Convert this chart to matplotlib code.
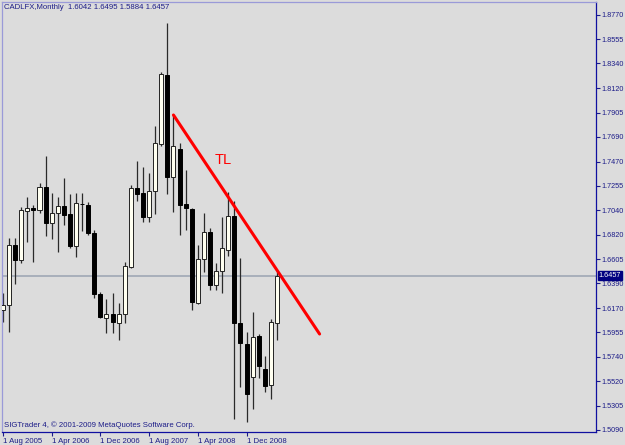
import numpy as np
import matplotlib
matplotlib.use("Agg")
from matplotlib import pyplot as plt
import matplotlib.transforms as mtransforms

# monthly CAD/LFX candles, Aug 2005 .. May 2009
opens = [1.6154, 1.6198, 1.6730, 1.6597, 1.7032, 1.7059, 1.7041, 1.7245,
         1.6926, 1.7014, 1.7076, 1.7005, 1.6722, 1.7094, 1.7085, 1.6837,
         1.6296, 1.6083, 1.6118, 1.6039, 1.6118, 1.6535, 1.7236, 1.7192,
         1.6979, 1.7209, 1.7626, 1.8238, 1.7333, 1.7582, 1.7094, 1.7050,
         1.6216, 1.6606, 1.6846, 1.6376, 1.6500, 1.6686, 1.6988, 1.6039,
         1.5852, 1.5560, 1.5923, 1.5631, 1.5489, 1.6042]
highs = [1.6305, 1.6792, 1.6792, 1.7067, 1.7156, 1.7085, 1.7280, 1.7520,
         1.7192, 1.7156, 1.7325, 1.7183, 1.7192, 1.7192, 1.7112, 1.6863,
         1.6314, 1.6251, 1.6305, 1.6216, 1.6580, 1.7262, 1.7475, 1.7422,
         1.7369, 1.7786, 1.8265, 1.8699, 1.7883, 1.7635, 1.7396, 1.7059,
         1.6730, 1.7014, 1.6881, 1.6571, 1.6979, 1.7200, 1.7121, 1.6615,
         1.5959, 1.6136, 1.5941, 1.5746, 1.6074, 1.6495]
lows = [1.6048, 1.5959, 1.6384, 1.6571, 1.6757, 1.6580, 1.7014, 1.6810,
        1.6784, 1.6668, 1.6908, 1.6704, 1.6624, 1.6855, 1.6819, 1.6260,
        1.6083, 1.5950, 1.5950, 1.5888, 1.6039, 1.6526, 1.7121, 1.6934,
        1.6934, 1.7005, 1.7608, 1.7183, 1.7023, 1.6819, 1.6863, 1.6154,
        1.6210, 1.6491, 1.6331, 1.6331, 1.6305, 1.6633, 1.5187, 1.5471,
        1.5161, 1.5276, 1.5551, 1.5427, 1.5365, 1.5884]
closes = [1.6198, 1.6730, 1.6597, 1.7041, 1.7059, 1.7041, 1.7245, 1.6926,
          1.7014, 1.7076, 1.6996, 1.6722, 1.7103, 1.7090, 1.6837, 1.6296,
          1.6092, 1.6118, 1.6048, 1.6118, 1.6544, 1.7236, 1.7183, 1.6979,
          1.7209, 1.7635, 1.8247, 1.7333, 1.7608, 1.7085, 1.7059, 1.6225,
          1.6606, 1.6846, 1.6376, 1.6500, 1.6704, 1.6988, 1.6039, 1.5861,
          1.5409, 1.5915, 1.5657, 1.5480, 1.6048, 1.6457]

date_ticks = [0, 8, 16, 24, 32, 40]
date_labels = ["1 Aug 2005", "1 Apr 2006", "1 Dec 2006", "1 Aug 2007",
               "1 Apr 2008", "1 Dec 2008"]
price_ticks = [1.8770, 1.8555, 1.8340, 1.8120, 1.7905, 1.7690, 1.7470, 1.7255,
               1.7040, 1.6820, 1.6605, 1.6390, 1.6170, 1.5955, 1.5740, 1.5520,
               1.5305, 1.5090]
trend_line = [(28, 1.7883), (52, 1.5941)]
last_price = 1.6457

BG = "#dcdcdc"
NAVY = "#1c1c88"
FONT = "Liberation Sans"
FS = 5.2

fig = plt.figure(figsize=(6.25, 4.45), dpi=100, facecolor=BG)
ax = fig.add_axes([2 / 625, 13 / 445, 594 / 625, 430 / 445], facecolor=BG)

x = np.arange(len(opens))
o = np.array(opens)
h = np.array(highs)
l = np.array(lows)
c = np.array(closes)
up = c >= o

ax.vlines(x, l, h, color="#2a2a2a", linewidth=0.9, zorder=2)
body = np.where(np.abs(c - o) < 0.0004, 0.0004 * np.sign(c - o + 1e-9), c - o)
ax.bar(x[up], body[up], bottom=o[up], width=0.66, color="#fffff0",
       edgecolor="#222222", linewidth=0.7, zorder=3)
ax.bar(x[~up], body[~up], bottom=o[~up], width=0.66, color="black",
       edgecolor="black", linewidth=0.7, zorder=3)

# current price line
ax.axhline(last_price, color="#a4acb8", linewidth=1.3, zorder=1)

# trend line
tx, ty = zip(*trend_line)
ax.plot(tx, ty, color="#ff0000", linewidth=2.2, solid_capstyle="round", zorder=4)
ax.text(36.2, 1.7484, "TL", color="#ff0000", fontsize=10.5, family=FONT,
        ha="center", va="center", zorder=5)

ax.set_xlim(-0.16, 97.4)
ax.set_ylim(1.5072, 1.8885)

ax.yaxis.tick_right()
ax.set_yticks(price_ticks)
ax.set_yticklabels([f"{p:.4f}" for p in price_ticks])
ax.tick_params(axis="y", direction="out", length=3, width=0.8, color=NAVY,
               labelcolor=NAVY, labelsize=FS, pad=1)
for lab in ax.get_yticklabels():
    lab.set_family(FONT)

ax.set_xticks(date_ticks)
ax.set_xticklabels(date_labels, ha="left")
ax.tick_params(axis="x", direction="out", length=3, width=0.8, color=NAVY,
               labelcolor=NAVY, labelsize=5.6, pad=1.5)
for lab in ax.get_xticklabels():
    lab.set_family(FONT)

for side in ["left", "top"]:
    ax.spines[side].set_color("#9a9ad8")
    ax.spines[side].set_linewidth(0.9)
for side in ["right", "bottom"]:
    ax.spines[side].set_color("#1010a0")
    ax.spines[side].set_linewidth(0.9)

ax.text(0.004, 0.996, "CADLFX,Monthly  1.6042 1.6495 1.5884 1.6457",
        transform=ax.transAxes, ha="left", va="top", fontsize=5.6,
        color=NAVY, family=FONT)
ax.text(0.004, 0.006, "SIGTrader 4, © 2001-2009 MetaQuotes Software Corp.",
        transform=ax.transAxes, ha="left", va="bottom", fontsize=5.6,
        color=NAVY, family=FONT)

# price marker on the right axis
trans = mtransforms.blended_transform_factory(ax.transAxes, ax.transData)
ax.text(1.004, last_price, f"{last_price:.4f}", transform=trans, ha="left",
        va="center", fontsize=FS, color="white", family=FONT,
        bbox=dict(boxstyle="square,pad=0.12", facecolor="#000080",
                  edgecolor="#000080"), clip_on=False, zorder=6)

fig.savefig("out.png", dpi=100, facecolor=BG)
